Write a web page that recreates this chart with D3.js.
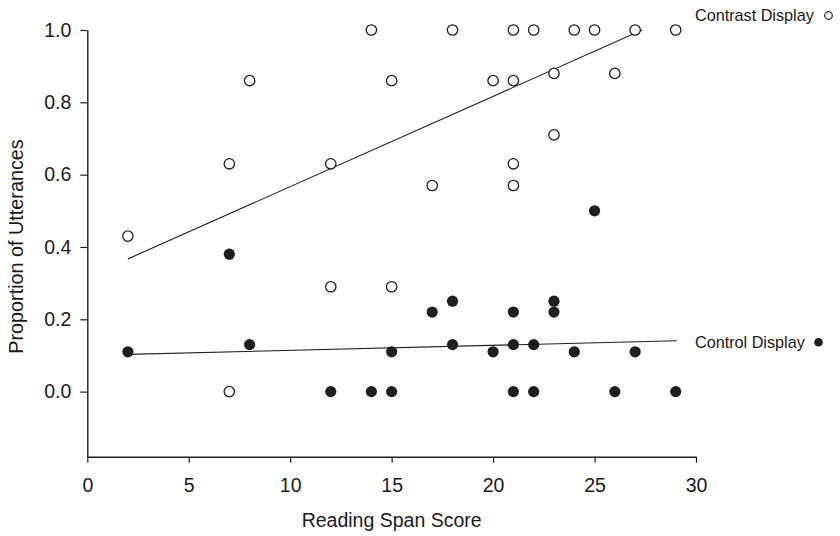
<!DOCTYPE html>
<html>
<head>
<meta charset="utf-8">
<script src="https://cdn.jsdelivr.net/npm/d3@7"></script>
<style>
  html, body { margin: 0; padding: 0; background: #fff; }
  svg { display: block; }
  text { font-family: "Liberation Sans", Arial, Helvetica, sans-serif; fill: #1a1a1a; }
</style>
</head>
<body>
<svg id="chart" width="840" height="536"></svg>
<script>
// ---- Data ----
const contrastX = [2, 7, 7, 8, 12, 12, 14, 15, 15, 17, 18, 20, 21, 21, 21, 21, 22, 23, 23, 24, 25, 26, 27, 29];
const contrastY = [0.43, 0.63, 0.00, 0.86, 0.63, 0.29, 1.00, 0.86, 0.29, 0.57, 1.00, 0.86, 1.00, 0.86, 0.63, 0.57, 1.00, 0.88, 0.71, 1.00, 1.00, 0.88, 1.00, 1.00];

const controlX = [2, 7, 8, 12, 14, 15, 15, 17, 18, 18, 20, 21, 21, 21, 22, 22, 23, 23, 24, 25, 26, 27, 29];
const controlY = [0.11, 0.38, 0.13, 0.00, 0.00, 0.11, 0.00, 0.22, 0.25, 0.13, 0.11, 0.22, 0.13, 0.00, 0.13, 0.00, 0.25, 0.22, 0.11, 0.50, 0.00, 0.11, 0.00];

// Fitted lines (endpoints)
const contrastFitX = [2, 27.35];
const contrastFitY = [0.367, 1.0];
const controlFitX = [2, 29.05];
const controlFitY = [0.103, 0.1405];

const xTicks = [0, 5, 10, 15, 20, 25, 30];
const yTicks = [0.0, 0.2, 0.4, 0.6, 0.8, 1.0];
const xDomain = [0, 30];
const yDomain = [-0.18, 1.0];

const xTitle = "Reading Span Score";
const yTitle = "Proportion of Utterances";
const contrastLabel = "Contrast Display";
const controlLabel = "Control Display";

// ---- Chart ----
const svg = d3.select("#chart");
const ink = "#1e1e1e";

const x = d3.scaleLinear().domain(xDomain).range([87.3, 696]);
const y = d3.scaleLinear().domain(yDomain).range([456.7, 30]);

// Axes
const xAxis = d3.axisBottom(x).tickValues(xTicks).tickSize(6).tickSizeOuter(0).tickPadding(15).tickFormat(d3.format("d"));
const yAxis = d3.axisLeft(y).tickValues(yTicks).tickSize(7).tickSizeOuter(0).tickPadding(9).tickFormat(d3.format(".1f"));

const gx = svg.append("g").attr("transform", `translate(0,${y(yDomain[0])})`).call(xAxis);
const gy = svg.append("g").attr("transform", `translate(${x(xDomain[0])},0)`).call(yAxis);

[gx, gy].forEach(g => {
  g.select(".domain").attr("stroke", ink).attr("stroke-width", 1.4);
  g.selectAll(".tick line").attr("stroke", ink).attr("stroke-width", 1.2);
  g.selectAll(".tick text").attr("fill", ink).style("font-size", "19.5px")
    .style("font-family", '"Liberation Sans", Arial, sans-serif');
});

// Axis titles
svg.append("text")
  .attr("x", x(15)).attr("y", 527)
  .attr("text-anchor", "middle")
  .style("font-size", "19.5px")
  .text(xTitle);

svg.append("text")
  .attr("transform", `translate(23,${246.5}) rotate(-90)`)
  .attr("text-anchor", "middle")
  .style("font-size", "19.8px")
  .text(yTitle);

// Fit lines
const line = d3.line().x(d => x(d[0])).y(d => y(d[1]));
svg.append("path")
  .datum(d3.zip(contrastFitX, contrastFitY))
  .attr("d", line).attr("fill", "none").attr("stroke", ink).attr("stroke-width", 1.1);
svg.append("path")
  .datum(d3.zip(controlFitX, controlFitY))
  .attr("d", line).attr("fill", "none").attr("stroke", ink).attr("stroke-width", 1.1);

// Points
svg.append("g").selectAll("circle")
  .data(d3.zip(controlX, controlY))
  .join("circle")
  .attr("cx", d => x(d[0])).attr("cy", d => y(d[1]))
  .attr("r", 5.6).attr("fill", ink).attr("stroke", "none");

svg.append("g").selectAll("circle")
  .data(d3.zip(contrastX, contrastY))
  .join("circle")
  .attr("cx", d => x(d[0])).attr("cy", d => y(d[1]))
  .attr("r", 5.2).attr("fill", "#fff").attr("stroke", ink).attr("stroke-width", 1.3);

// Line labels (legend)
svg.append("text")
  .attr("x", 695).attr("y", 15).attr("dy", "0.35em")
  .style("font-size", "16.2px")
  .text(contrastLabel);
svg.append("circle")
  .attr("cx", 828.5).attr("cy", 15.5).attr("r", 3.8)
  .attr("fill", "#fff").attr("stroke", ink).attr("stroke-width", 1.2);

svg.append("text")
  .attr("x", 695).attr("y", 342).attr("dy", "0.35em")
  .style("font-size", "16.2px")
  .text(controlLabel);
svg.append("circle")
  .attr("cx", 818.5).attr("cy", 342.3).attr("r", 4.3)
  .attr("fill", ink);
</script>
</body>
</html>
